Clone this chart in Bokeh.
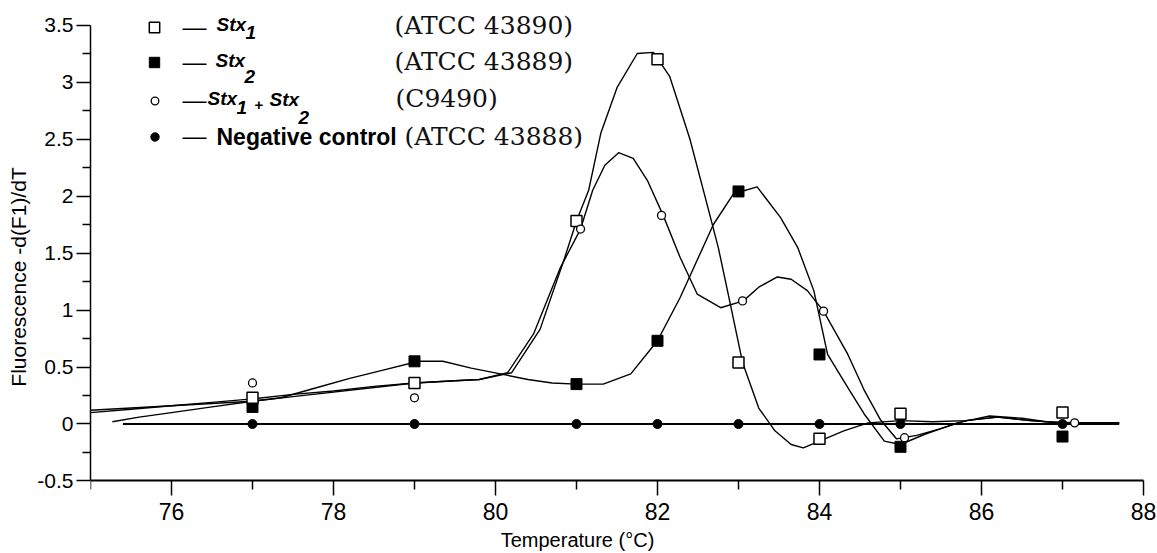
from bokeh.plotting import figure
from bokeh.models import FixedTicker, Label, Legend, LegendItem, Range1d
from bokeh.embed import file_html
from bokeh.resources import INLINE

# ---------------- data ----------------
marker_temps = [77, 79, 81, 82, 83, 84, 85, 87]
both_marker_temps = [77, 79, 81.05, 82.05, 83.05, 84.05, 85.05, 87.15]

stx1_marks = [0.23, 0.36, 1.78, 3.20, 0.54, -0.13, 0.09, 0.10]
stx2_marks = [0.15, 0.55, 0.35, 0.73, 2.04, 0.61, -0.20, -0.11]
both_marks = [0.36, 0.23, 1.71, 1.83, 1.08, 0.99, -0.12, 0.01]
neg_marks = [0.0, 0.0, 0.0, 0.0, 0.0, 0.0, 0.0, 0.0]

stx1_curve_t = [75.0, 75.5, 76.0, 76.5, 77.0, 77.5, 78.0, 78.5, 79.0, 79.5,
                79.8, 80.2, 80.55, 80.85, 81.0, 81.15, 81.3, 81.5, 81.75, 81.95,
                82.15, 82.4, 82.6, 82.75, 82.9, 83.05, 83.25, 83.45, 83.65, 83.8,
                84.0, 84.3, 84.6, 85.0, 85.4, 85.8, 86.2, 86.6, 87.0, 87.7]
stx1_curve_v = [0.10, 0.13, 0.16, 0.19, 0.22, 0.26, 0.29, 0.33, 0.36, 0.38,
                0.39, 0.45, 0.83, 1.45, 1.78, 2.05, 2.55, 2.95, 3.25, 3.26,
                3.05, 2.50, 1.96, 1.55, 1.05, 0.54, 0.14, -0.06, -0.18, -0.21,
                -0.15, -0.06, 0.01, 0.03, 0.02, 0.03, 0.06, 0.03, 0.01, 0.01]

stx2_curve_t = [75.0, 75.5, 76.0, 76.5, 77.0, 77.35, 77.8, 78.2, 78.6, 79.05,
                79.35, 79.7, 80.06, 80.4, 80.7, 81.0, 81.33, 81.67, 82.0, 82.28,
                82.69, 82.94, 83.23, 83.52, 83.73, 83.93, 84.1, 84.35, 84.55, 84.8,
                85.0, 85.3, 85.7, 86.1, 86.5, 86.8, 87.2, 87.7]
stx2_curve_v = [0.12, 0.14, 0.16, 0.18, 0.20, 0.23, 0.32, 0.40, 0.47, 0.55,
                0.55, 0.49, 0.44, 0.39, 0.36, 0.35, 0.35, 0.44, 0.73, 1.11,
                1.75, 2.02, 2.08, 1.81, 1.55, 1.17, 0.61, 0.32, 0.09, -0.15,
                -0.18, -0.09, 0.01, 0.07, 0.05, 0.02, 0.01, 0.01]

both_curve_t = [75.27, 75.6, 76.0, 76.5, 77.0, 77.5, 78.0, 78.5, 79.0, 79.5,
                79.8, 80.15, 80.47, 80.8, 81.05, 81.2, 81.35, 81.52, 81.7, 81.88,
                82.07, 82.28, 82.49, 82.78, 83.06, 83.25, 83.48, 83.65, 83.85, 84.05,
                84.35, 84.55, 84.75, 84.95, 85.2, 85.5, 85.8, 86.2, 86.6, 87.0, 87.7]
both_curve_v = [0.02, 0.06, 0.10, 0.15, 0.20, 0.24, 0.28, 0.32, 0.36, 0.38,
                0.39, 0.45, 0.79, 1.37, 1.71, 2.05, 2.27, 2.38, 2.33, 2.13,
                1.83, 1.46, 1.14, 1.02, 1.08, 1.20, 1.29, 1.27, 1.17, 0.99,
                0.61, 0.30, 0.04, -0.13, -0.10, -0.04, 0.03, 0.06, 0.03, 0.01, 0.01]

neg_curve_t = [75.4, 87.7]
neg_curve_v = [0.0, 0.0]

x_ticks = [76, 78, 80, 82, 84, 86, 88]
x_minor = [75, 77, 79, 81, 83, 85, 87]
y_ticks = [-0.5, 0, 0.5, 1, 1.5, 2, 2.5, 3, 3.5]
y_tick_labels = ["-0.5", "0", "0.5", "1", "1.5", "2", "2.5", "3", "3.5"]
y_minor = [-0.25, 0.25, 0.75, 1.25, 1.75, 2.25, 2.75, 3.25]

x_title = "Temperature (°C)"
y_title = "Fluorescence -d(F1)/dT"
strain_labels = ["(ATCC 43890)", "(ATCC 43889)", "(C9490)", "(ATCC 43888)"]

# ---------------- figure ----------------
# The frame spans the full height and reaches the right edge so that the
# legend, the x-axis title and the "88" label are not clipped; the axes are
# pinned with bounds / fixed_location to the extent shown in the reference.
W, H = 1157, 553
p = figure(width=W, height=H, output_backend="svg", toolbar_location=None,
           x_range=Range1d(75, 88.173), y_range=Range1d(-1.136, 3.715),
           min_border_left=90, min_border_right=0, min_border_top=0, min_border_bottom=0)
p.background_fill_color = "white"
p.border_fill_color = "white"
p.outline_line_color = None
p.xgrid.visible = False
p.ygrid.visible = False

SANS = "Liberation Sans"
SERIF = "DejaVu Serif"

xa = p.xaxis[0]
xa.fixed_location = -0.5
xa.bounds = (75, 88)
xa.ticker = FixedTicker(ticks=x_ticks, minor_ticks=x_minor)
xa.axis_line_width = 2
xa.axis_line_color = "black"
xa.major_tick_line_color = "black"
xa.minor_tick_line_color = "black"
xa.major_tick_line_width = 1.5
xa.minor_tick_line_width = 1.5
xa.major_tick_in = 0
xa.major_tick_out = 15
xa.minor_tick_in = 0
xa.minor_tick_out = 9
xa.major_label_standoff = 7
xa.major_label_text_font = SANS
xa.major_label_text_font_size = "23px"
xa.major_label_text_color = "black"

ya = p.yaxis[0]
ya.bounds = (-0.5, 3.5)
ya.ticker = FixedTicker(ticks=y_ticks, minor_ticks=y_minor)
ya.major_label_overrides = {t: s for t, s in zip(y_ticks, y_tick_labels)}
ya.axis_line_width = 1.5
ya.axis_line_color = "black"
ya.major_tick_line_color = "black"
ya.minor_tick_line_color = "black"
ya.major_tick_line_width = 1.5
ya.minor_tick_line_width = 1.5
ya.major_tick_in = 0
ya.major_tick_out = 14
ya.minor_tick_in = 0
ya.minor_tick_out = 8
ya.major_label_standoff = 3
ya.major_label_text_font = SANS
ya.major_label_text_font_size = "21px"
ya.major_label_text_color = "black"
ya.axis_label = y_title
ya.axis_label_text_font = SANS
ya.axis_label_text_font_size = "21px"
ya.axis_label_text_font_style = "normal"
ya.axis_label_text_color = "black"
ya.axis_label_standoff = 4

# curves
p.line(stx1_curve_t, stx1_curve_v, line_color="black", line_width=1.4, line_join="round")
p.line(stx2_curve_t, stx2_curve_v, line_color="black", line_width=1.4, line_join="round")
p.line(both_curve_t, both_curve_v, line_color="black", line_width=1.4, line_join="round")
p.line(neg_curve_t, neg_curve_v, line_color="black", line_width=2.2)

# markers
r_neg = p.scatter(marker_temps, neg_marks, marker="circle", size=9,
                  fill_color="black", line_color="black")
r_stx2 = p.scatter(marker_temps, stx2_marks, marker="square", size=11,
                   fill_color="black", line_color="black")
r_stx1 = p.scatter(marker_temps, stx1_marks, marker="square", size=11,
                   fill_color="white", line_color="black", line_width=1.5)
r_both = p.scatter(both_marker_temps, both_marks, marker="circle", size=8,
                   fill_color="white", line_color="black", line_width=1.3)

# ---------------- legend (layout in page pixels) ----------------
FL = 90                   # frame left on the page; frame spans full height
def fx(px):
    return px - FL
def fy(py):
    return H - py

row_y = [27, 62, 100, 136]
mark_x = 154
glyph_boxes = [26, 26, 19, 21]
for r, gy, gb in zip([r_stx1, r_stx2, r_both, r_neg], row_y, glyph_boxes):
    leg = Legend(items=[LegendItem(label=" ", renderers=[r])],
                 location=(fx(mark_x) - gb / 2, fy(gy + gb / 2)),
                 glyph_width=gb, glyph_height=gb, label_width=0, label_height=gb,
                 label_standoff=0, padding=0, margin=0, spacing=0,
                 label_text_font_size="1px", border_line_color=None,
                 background_fill_alpha=0)
    p.add_layout(leg)

def lab(x, y, text, font=SANS, size="20px", style="normal", align="left",
        baseline="middle", color="black"):
    p.add_layout(Label(x=fx(x), y=fy(y), x_units="screen", y_units="screen", text=text,
                       text_font=font, text_font_size=size, text_font_style=style,
                       text_align=align, text_baseline=baseline, text_color=color))

for gy in row_y:
    lab(194, gy - 1, "—", size="24px", align="center")

STX = dict(size="19px", style="bold italic")
lab(216, 24, "Stx", **STX)
lab(245, 32, "1", **STX)
lab(215, 60, "Stx", **STX)
lab(244, 76, "2", **STX)
lab(207, 98, "Stx", **STX)
lab(236, 107, "1", **STX)
lab(254, 104, "+", size="15px", style="bold")
lab(269, 99, "Stx", **STX)
lab(298, 117, "2", **STX)
lab(216, 136, "Negative control", size="23px", style="bold")

serif_x = [394, 394, 395, 404]
serif_y = [25, 61, 98, 136]
for sx, sy, t in zip(serif_x, serif_y, strain_labels):
    lab(sx, sy, t, font=SERIF, size="25px", color="#111111")

# x axis title (placed like the reference, left of the frame centre)
lab(577, 539, x_title, size="20px", align="center", baseline="middle")

open("out.html", "w").write(file_html(p, INLINE))
